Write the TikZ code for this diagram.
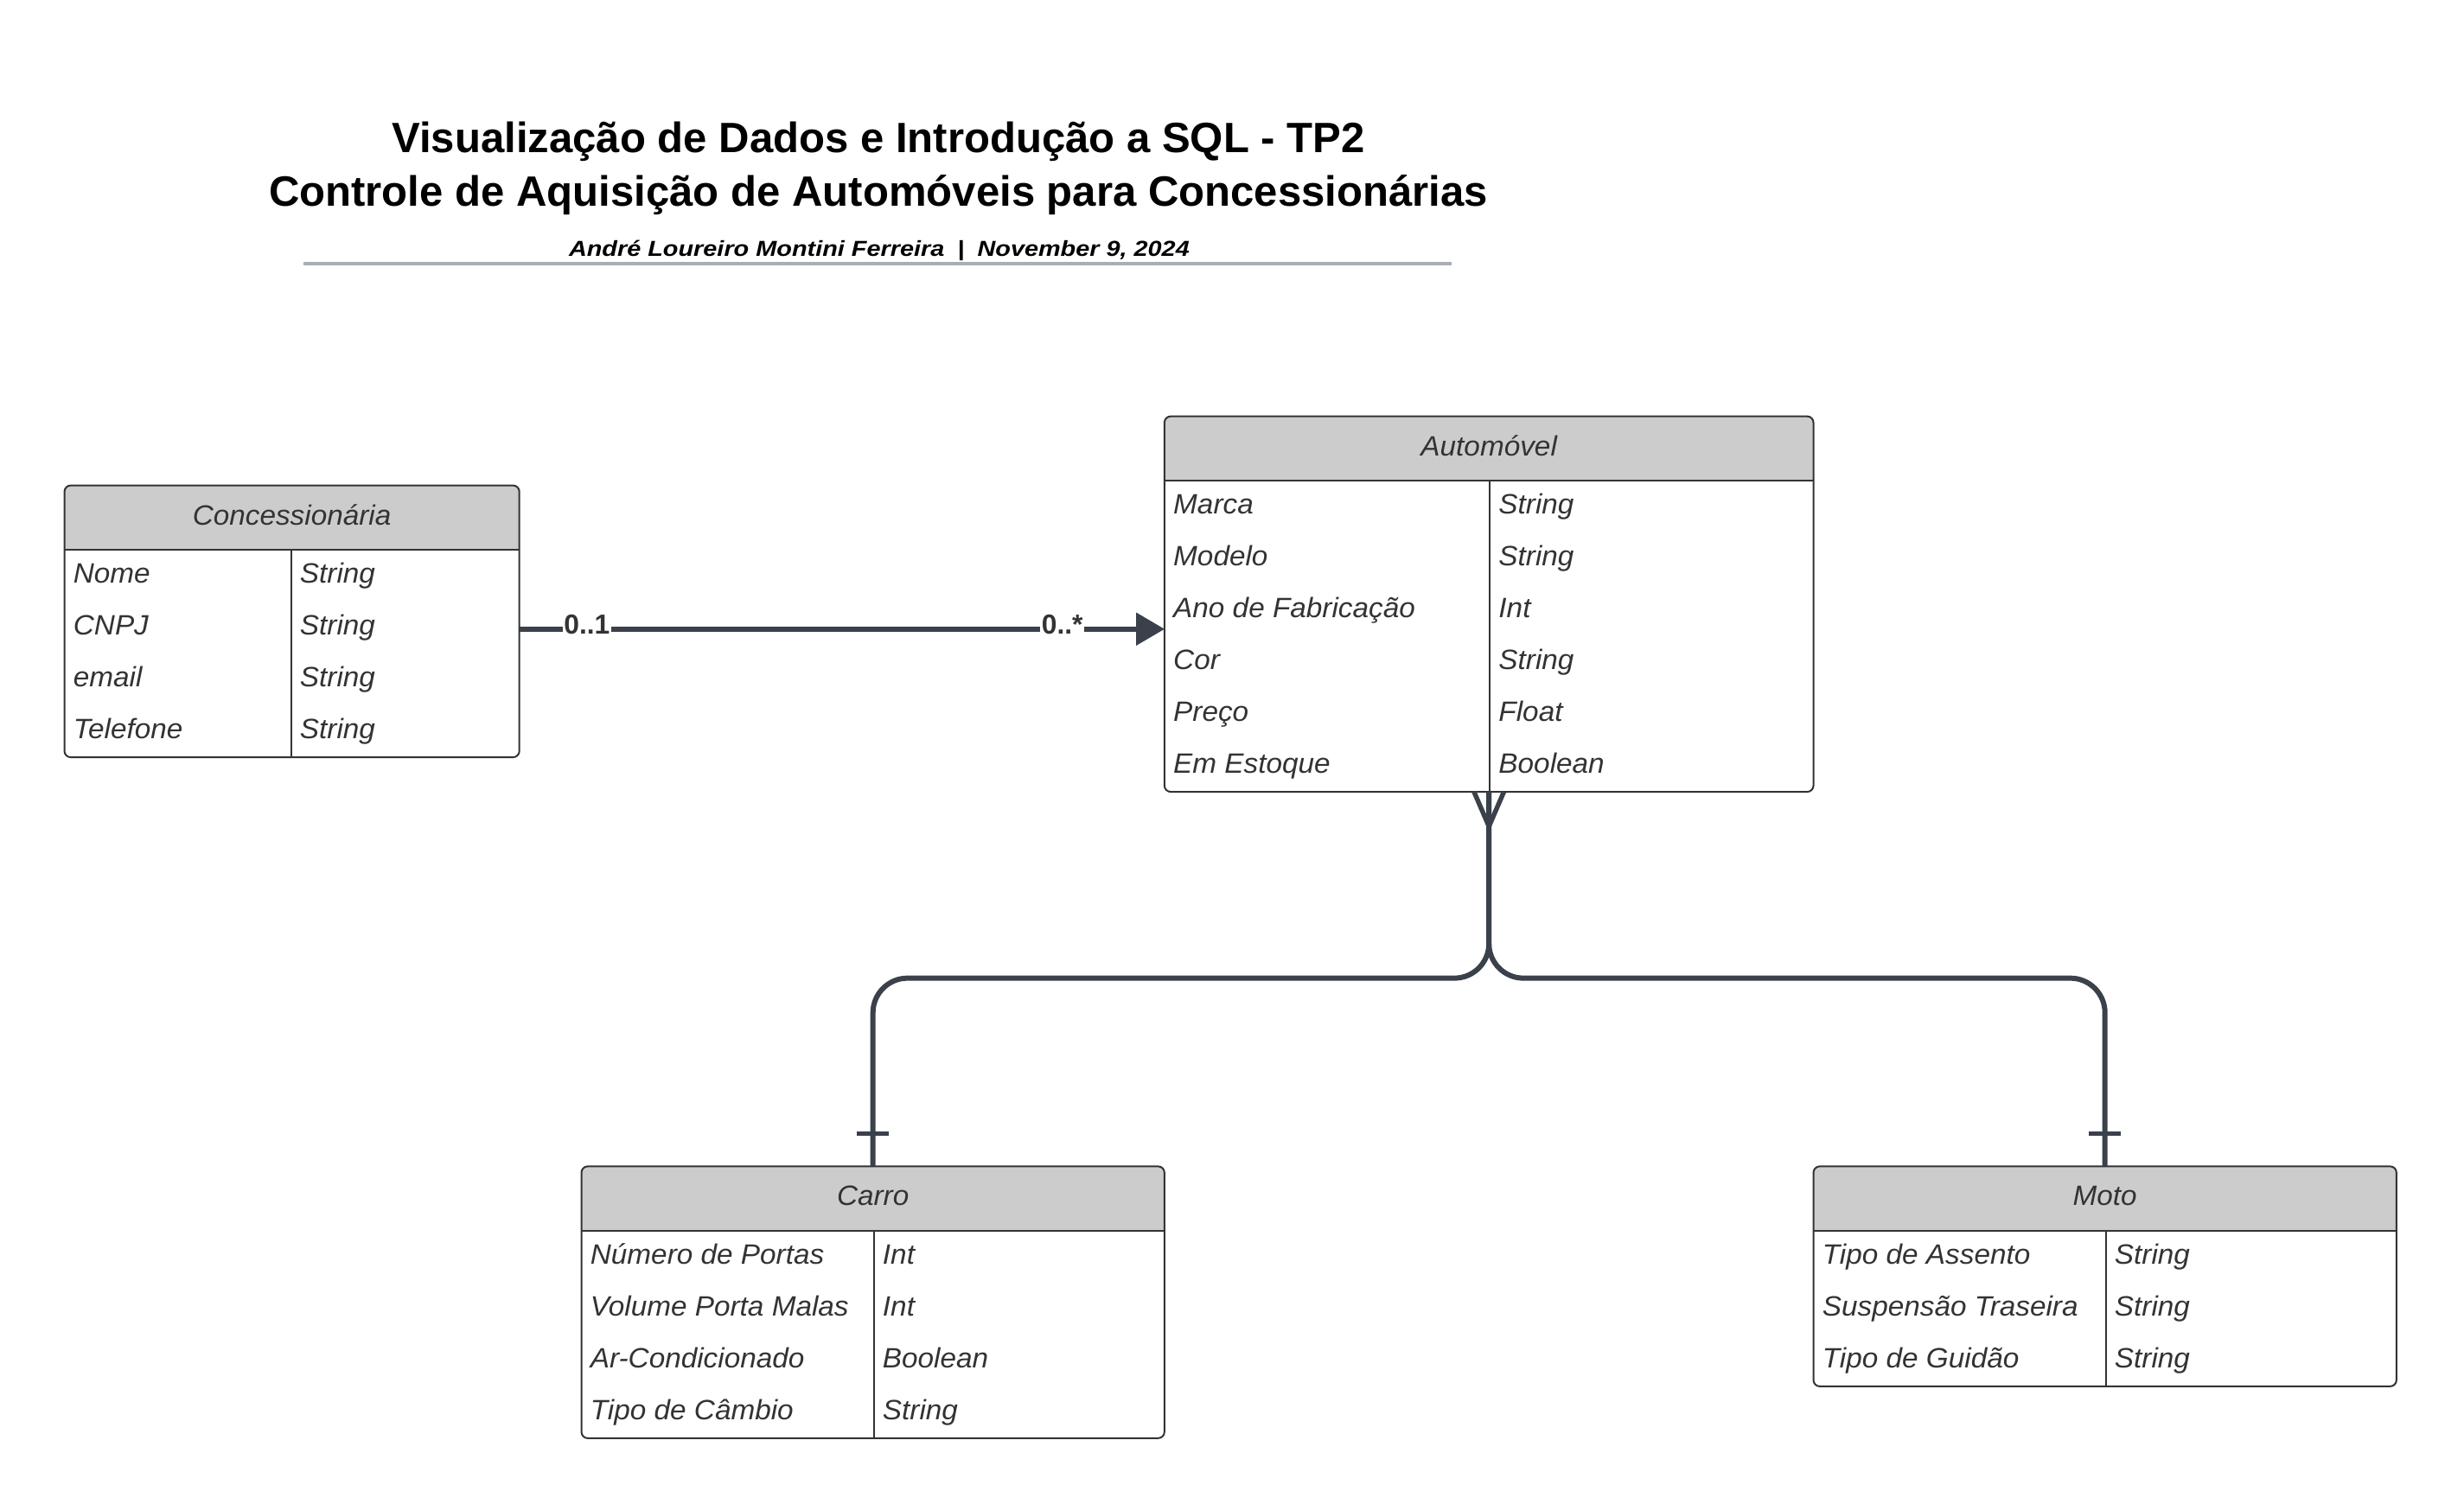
\documentclass[tikz,border=0pt]{standalone}
\usepackage{fontspec}
\setmainfont{Liberation Sans}
\newfontfamily\itfam{Liberation Sans}[FakeStretch=1.15]
\newfontfamily\cellfam{Liberation Sans}[FakeStretch=1.03]
\usetikzlibrary{arrows.meta,calc}
\definecolor{conncol}{HTML}{3A414A}
\definecolor{bordercol}{HTML}{333333}
\definecolor{headfill}{HTML}{CCCCCC}
\definecolor{textcol}{HTML}{333333}
\definecolor{rulecol}{HTML}{A9ADB5}
\tikzset{
  erframe/.style={draw=bordercol, line width=1.1pt, rounded corners=4pt, inner sep=0pt, outer sep=0pt, fill=none},
  erline/.style={draw=bordercol, line width=1.1pt},
  ercell/.style={anchor=base west, inner sep=0pt, text=textcol, font=\cellfam\itshape\fontsize{17.8}{20}\selectfont},
  erhead/.style={anchor=base, inner sep=0pt, text=textcol, font=\cellfam\itshape\fontsize{17.8}{20}\selectfont},
  conn/.style={draw=conncol, line width=3.3pt},
  mult/.style={anchor=base, fill=white, inner xsep=1pt, inner ysep=1pt, text=textcol, font=\bfseries\fontsize{17.5}{20}\selectfont},
  ttl/.style={anchor=base, inner sep=0pt, text=black, font=\bfseries\fontsize{27}{32}\selectfont},
}
\newcommand{\erbox}[8]{%
  \pgfmathsetmacro{\ybot}{#3+41+33*#7}%
  \pgfmathsetmacro{\yhd}{#3+41}%
  \pgfmathsetmacro{\bw}{#4-#2}%
  \pgfmathsetmacro{\bh}{\ybot-#3}%
  \begin{scope}
    \clip[rounded corners=4pt] (#2,#3) rectangle (#4,\ybot);
    \fill[headfill] (#2,#3) rectangle (#4,\yhd);
  \end{scope}
  \node[erframe, minimum width=\bw pt, minimum height=\bh pt] (#1) at ({(#2+#4)/2},{(#3+\ybot)/2}) {};
  \draw[erline] (#2,\yhd) -- (#4,\yhd);
  \draw[erline] (#5,\yhd) -- (#5,\ybot);
  \node[erhead] (#1-title) at ({(#2+#4)/2},{#3+25}) {#6};
  \foreach \a/\b [count=\i] in {#8} {
    \node[ercell] (#1-k\i) at ({#2+5.5},{\yhd+33*(\i-1)+21}) {\a};
    \node[ercell] (#1-v\i) at ({#5+5.5},{\yhd+33*(\i-1)+21}) {\b};
  }
}
\begin{document}
\begin{tikzpicture}[x=1pt,y=-1pt]
\useasboundingbox[fill=white] (0,0) rectangle (1568,957);

% title block
\node[ttl] (title1) at (559,97.2) {Visualização de Dados e Introdução a SQL - TP2};
\node[ttl] (title2) at (559,131.1) {Controle de Aquisição de Automóveis para Concessionárias};
\node[anchor=base, inner sep=0pt, text=black, font=\itfam\bfseries\itshape\fontsize{13.8}{16}\selectfont] (subtitle) at (559.5,163) {André Loureiro Montini Ferreira\hspace{0.6em}|\hspace{0.6em}November 9, 2024};
\coordinate (r1) at (193,168);
\coordinate (r2) at (924,168);
\draw[rulecol, line width=2.2pt] (r1) -- (r2);

% tables
\erbox{conc}{41}{309}{330.5}{185.2}{Concessionária}{4}{Nome/String, CNPJ/String, email/String, Telefone/String}
\erbox{auto}{741}{265}{1154}{948}{Automóvel}{6}{Marca/String, Modelo/String, Ano de Fabricação/Int, Cor/String, Preço/Float, Em Estoque/Boolean}
\erbox{carro}{370}{742.4}{741}{556}{Carro}{4}{Número de Portas/Int, Volume Porta Malas/Int, Ar-Condicionado/Boolean, Tipo de Câmbio/String}
\erbox{moto}{1154}{742.4}{1525}{1340}{Moto}{3}{Tipo de Assento/String, Suspensão Traseira/String, Tipo de Guidão/String}

% association Concessionaria -> Automovel
\coordinate (c1) at ([yshift=-4.9pt]conc.east);
\draw[conn, -{Triangle[length=18pt,width=21pt,line width=0.5pt]}] (c1) -- (c1 -| auto.west);
\node[mult] (m1) at (373.5,403.8) {0..1};
\node[mult] (m2) at (676,403.8) {0..*};

% branches Automovel -> Carro / Moto
\coordinate (j) at ([yshift=-118.6pt]auto.south);
\draw[conn, rounded corners=22pt] (auto.south) -- (j) -- (j -| carro.north) -- (carro.north);
\draw[conn, rounded corners=22pt] (auto.south) -- (j) -- (j -| moto.north) -- (moto.north);

% crow's foot at Automovel
\draw[conn, line width=3pt, line join=round] ([xshift=-9.5pt]auto.south) -- ([yshift=-22pt]auto.south) -- ([xshift=9.5pt]auto.south);

% "one" bars at Carro and Moto
\draw[conn, line width=2.6pt] ([xshift=-10.2pt,yshift=21pt]carro.north) -- ([xshift=10.2pt,yshift=21pt]carro.north);
\draw[conn, line width=2.6pt] ([xshift=-10.2pt,yshift=21pt]moto.north) -- ([xshift=10.2pt,yshift=21pt]moto.north);
\end{tikzpicture}
\end{document}
